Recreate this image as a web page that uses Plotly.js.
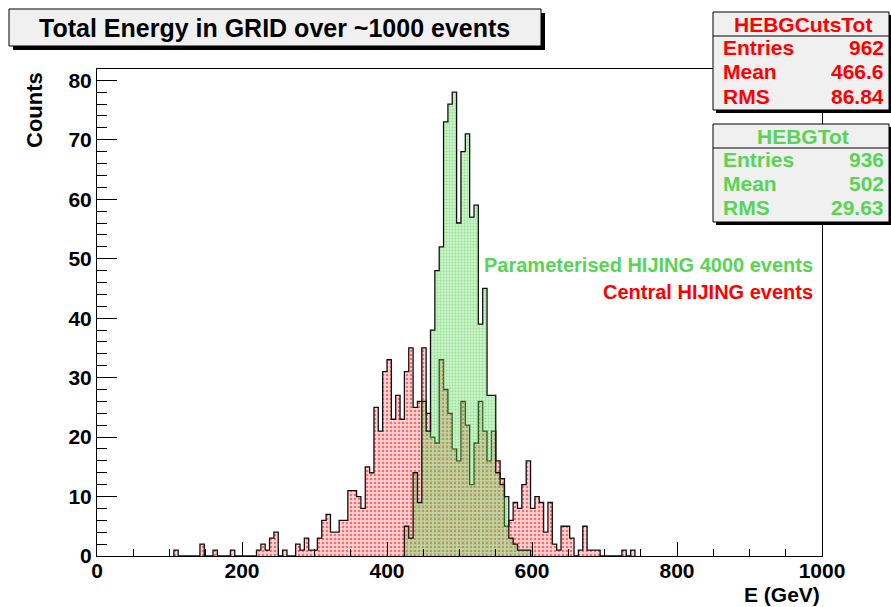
<!DOCTYPE html>
<html><head><meta charset="utf-8">
<script src="https://cdn.plot.ly/plotly-3.0.1.min.js"></script>
<style>html,body{margin:0;padding:0;background:#fff}#chart{width:891px;height:607px}</style>
</head><body><div id="chart"></div>
<script>
// ---- data ----
const binWidth = 6;
// HEBGCutsTot (red), consecutive 6 GeV bins starting at lower edge 106 GeV
const redFirstEdge = 106;
const redCounts = [1,0,0,0,0,0,2,0,0,1,0,0,0,1,0,0,0,0,0,1,2,1,3,4,0,1,0,0,2,1,
  3,1,1,3,6,7,4,4,6,6,11,11,10,8,15,14,25,21,31,33,23,27,23,31,35,25,26,35,24,20,
  19,33,28,24,18,16,26,22,12,19,26,21,16,21,16,13,5,6,9,8,12,16,8,10,9,4,9,2,1,5,
  5,3,0,1,5,1,1,1,0,0,0,0,0,1,0,1];
// HEBGTot (green), consecutive 6 GeV bins starting at lower edge 424 GeV
const greenFirstEdge = 424;
const greenCounts = [5,3,14,9,26,21,38,48,52,73,76,78,56,68,71,57,59,39,45,27,27,14,12,10,3,2,1,1,1];

const xTickVals = [0,200,400,600,800,1000];
const yTickVals = [0,10,20,30,40,50,60,70,80];

const chartTitle = 'Total Energy in GRID over ~1000 events';
const xTitle = 'E (GeV)';
const yTitle = 'Counts';
const legendTexts = ['Parameterised HIJING 4000 events', 'Central HIJING events'];

const statsNames = ['HEBGCutsTot', 'HEBGTot'];
const statsEntries = ['962', '936'];
const statsMean = ['466.6', '502'];
const statsRMS = ['86.84', '29.63'];

// ---- styling ----
const RED = '#ff0000';
const GREEN = '#59d454';
const FONT = 'Liberation Sans, Arial, Helvetica, sans-serif';
const L = 97, R = 69, T = 69, B = 51, W = 891, H = 607;
const PW = W - L - R, PH = H - T - B;
const px = x => (x - L) / PW;
const py = y => (H - B - y) / PH;

function stepTrace(firstEdge, counts, color, tint, size, solidity) {
  const xs = [firstEdge], ys = [0];
  counts.forEach((c, i) => { xs.push(firstEdge + i * binWidth); ys.push(c); });
  xs.push(firstEdge + counts.length * binWidth); ys.push(0);
  return {
    type: 'scatter', mode: 'lines', x: xs, y: ys,
    line: {shape: 'hv', color: '#111', width: 1.3},
    fill: 'tozeroy', fillcolor: tint,
    fillpattern: {shape: '.', fgcolor: color, size: size, solidity: solidity, fillmode: 'overlay'},
    hoverinfo: 'skip', showlegend: false
  };
}

const traces = [
  stepTrace(redFirstEdge, redCounts, RED, 'rgba(255,110,110,0.30)', 4, 0.3),
  stepTrace(greenFirstEdge, greenCounts, GREEN, 'rgba(89,212,84,0.30)', 3, 0.35)
];

const shapes = [];
const annotations = [];
function box(x0, y0, x1, y1, shadow, fill) {
  shapes.push({type: 'rect', xref: 'paper', yref: 'paper', layer: 'above',
    x0: px(x0 + shadow), x1: px(x1 + shadow), y0: py(y0 + shadow), y1: py(y1 + shadow),
    line: {width: 0}, fillcolor: '#000'});
  shapes.push({type: 'rect', xref: 'paper', yref: 'paper', layer: 'above',
    x0: px(x0), x1: px(x1), y0: py(y0), y1: py(y1),
    line: {width: 1, color: '#000'}, fillcolor: fill});
}
function hline(x0, x1, y) {
  shapes.push({type: 'line', xref: 'paper', yref: 'paper', layer: 'above',
    x0: px(x0), x1: px(x1), y0: py(y), y1: py(y), line: {width: 1, color: '#000'}});
}
function text(t, x, y, xanchor, size, color, angle) {
  annotations.push({text: '<b>' + t + '</b>', xref: 'paper', yref: 'paper',
    x: px(x), y: py(y), xanchor: xanchor, yanchor: 'middle', showarrow: false,
    textangle: angle || 0, font: {family: FONT, size: size, color: color}});
}

// title box
box(9, 9, 541, 46, 4, '#f0f0f0');
text(chartTitle, 274, 28, 'center', 25, '#000');

// stats boxes
const statTops = [12, 124];
const statColors = [RED, GREEN];
for (let i = 0; i < 2; i++) {
  const t0 = statTops[i];
  box(713, t0, 889, t0 + 98, 3, '#f0f0f0');
  hline(713, 889, t0 + 24);
  text(statsNames[i], 803, t0 + 12, 'center', 21, statColors[i]);
  const labels = ['Entries', 'Mean', 'RMS'];
  const vals = [statsEntries[i], statsMean[i], statsRMS[i]];
  for (let j = 0; j < 3; j++) {
    text(labels[j], 721, t0 + 35 + j * 24.5, 'left', 21, statColors[i]);
    text(vals[j], 886, t0 + 35 + j * 24.5, 'right', 21, statColors[i]);
  }
}

// legend texts
text(legendTexts[0], 815, 265, 'right', 20, GREEN);
text(legendTexts[1], 815, 292, 'right', 20, RED);

// axis titles
text(xTitle, 822, 594, 'right', 21, '#000');
annotations.push({text: '<b>' + yTitle + '</b>', xref: 'paper', yref: 'paper',
  x: px(35), y: py(70), xanchor: 'center', yanchor: 'top', showarrow: false,
  textangle: -90, font: {family: FONT, size: 22, color: '#000'}});

const layout = {
  width: W, height: H,
  margin: {l: L, r: R, t: T, b: B, pad: 0},
  paper_bgcolor: '#fff', plot_bgcolor: '#fff',
  showlegend: false,
  font: {family: FONT, color: '#000'},
  xaxis: {
    range: [0, 1000], showgrid: false, zeroline: false,
    showline: true, linecolor: '#000', linewidth: 1, mirror: true,
    tickmode: 'array', tickvals: xTickVals, ticktext: xTickVals.map(String),
    ticks: 'inside', ticklen: 14, tickwidth: 1, tickcolor: '#000',
    ticklabelstandoff: -4,
    minor: {dtick: 50, ticks: 'inside', ticklen: 7, tickwidth: 1, tickcolor: '#000', showgrid: false},
    tickfont: {family: FONT, size: 21, color: '#000', weight: 'bold'}
  },
  yaxis: {
    range: [0, 81.9], showgrid: false, zeroline: false,
    showline: true, linecolor: '#000', linewidth: 1, mirror: true,
    tickmode: 'array', tickvals: yTickVals, ticktext: yTickVals.map(String),
    ticks: 'inside', ticklen: 20, tickwidth: 1, tickcolor: '#000',
    minor: {dtick: 2, ticks: 'inside', ticklen: 10, tickwidth: 1, tickcolor: '#000', showgrid: false},
    tickfont: {family: FONT, size: 21, color: '#000', weight: 'bold'}
  },
  shapes: shapes,
  annotations: annotations
};

Plotly.newPlot('chart', traces, layout, {displayModeBar: false, staticPlot: true});
</script>
</body></html>
